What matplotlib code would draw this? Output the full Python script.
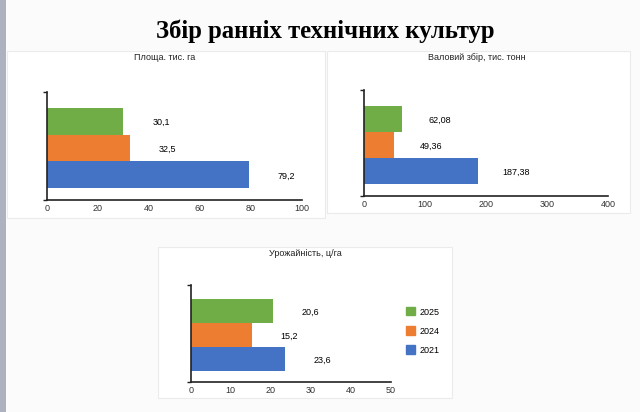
import matplotlib.pyplot as plt
from matplotlib.patches import Rectangle

# data
years = ['2021', '2024', '2025']
colors = ['#4472c4', '#ed7d31', '#70ad47']
area = [79.2, 32.5, 30.1]          # Площа, тис. га
gross = [187.38, 49.36, 62.08]     # Валовий збір, тис. тонн
yields = [23.6, 15.2, 20.6]        # Урожайність, ц/га

W, H = 640, 412
fig = plt.figure(figsize=(W / 100, H / 100), dpi=100, facecolor='#fbfbfb')
plt.rcParams['font.family'] = ['Liberation Sans', 'DejaVu Sans']


def px_box(x0, y0, x1, y1):
    # pixel box (top-left origin) -> figure fraction [l, b, w, h]
    return [x0 / W, 1 - y1 / H, (x1 - x0) / W, (y1 - y0) / H]


# grey strip on the left edge of the slide
fig.add_artist(Rectangle((0, 0), 6 / W, 1, transform=fig.transFigure,
                         facecolor='#aeb2c0', edgecolor='none', zorder=-2))

# white chart panels (behind the axes)
for box in [(7, 51, 325, 218), (327, 51, 630, 213), (158, 247, 452, 398)]:
    l, b, w, h = px_box(*box)
    fig.add_artist(Rectangle((l, b), w, h, transform=fig.transFigure,
                             facecolor='white', edgecolor='#ebebeb', lw=0.8, zorder=-1))

fig.text(325 / W, 1 - 31 / H, 'Збір ранніх технічних культур', ha='center', va='center',
         family='Liberation Serif', fontweight='bold', fontsize=17.8)


def panel(box, values, xmax, step, title, title_xy):
    ax = fig.add_axes(px_box(*box))
    ax.patch.set_alpha(0)
    pos = range(len(values))
    ax.barh(pos, values, height=1.0, color=colors)
    for p, v in zip(pos, values):
        ax.annotate(str(v).replace('.', ','), (v, p), xytext=(27, -1),
                    textcoords='offset points', ha='center', va='center', fontsize=6.5)
    ax.set_xlim(0, xmax)
    ax.set_ylim(-0.95, 3.1)
    ax.set_xticks(range(0, xmax + 1, step))
    ax.set_yticks([-0.95, 3.1])
    ax.set_yticklabels([])
    ax.tick_params(axis='x', length=0, labelsize=6.5, pad=3, colors='#333333')
    ax.tick_params(axis='y', length=3, width=1, color='#222222')
    for s in ['top', 'right']:
        ax.spines[s].set_visible(False)
    for s in ['left', 'bottom']:
        ax.spines[s].set_linewidth(1.2)
        ax.spines[s].set_color('#222222')
    fig.text(title_xy[0] / W, 1 - title_xy[1] / H, title, ha='center', va='center',
             fontsize=6.5, color='#222222')
    return ax


panel((46.7, 92, 301.7, 200), area, 100, 20, 'Площа. тис. га', (165, 58))
panel((364, 90, 608, 195.7), gross, 400, 100, 'Валовий збір, тис. тонн', (477, 57))
ax3 = panel((190.7, 285, 390.7, 381.7), yields, 50, 10, 'Урожайність, ц/га', (305, 254))

handles = [Rectangle((0, 0), 1, 1, color=c) for c in colors]
fig.legend(handles[::-1], years[::-1], loc='center left',
           bbox_to_anchor=(398 / W, 1 - 331 / H), frameon=False, fontsize=6.5,
           handlelength=1.0, handleheight=1.0, handletextpad=0.5, labelspacing=1.1)

fig.savefig('out.png', dpi=100, facecolor=fig.get_facecolor())
